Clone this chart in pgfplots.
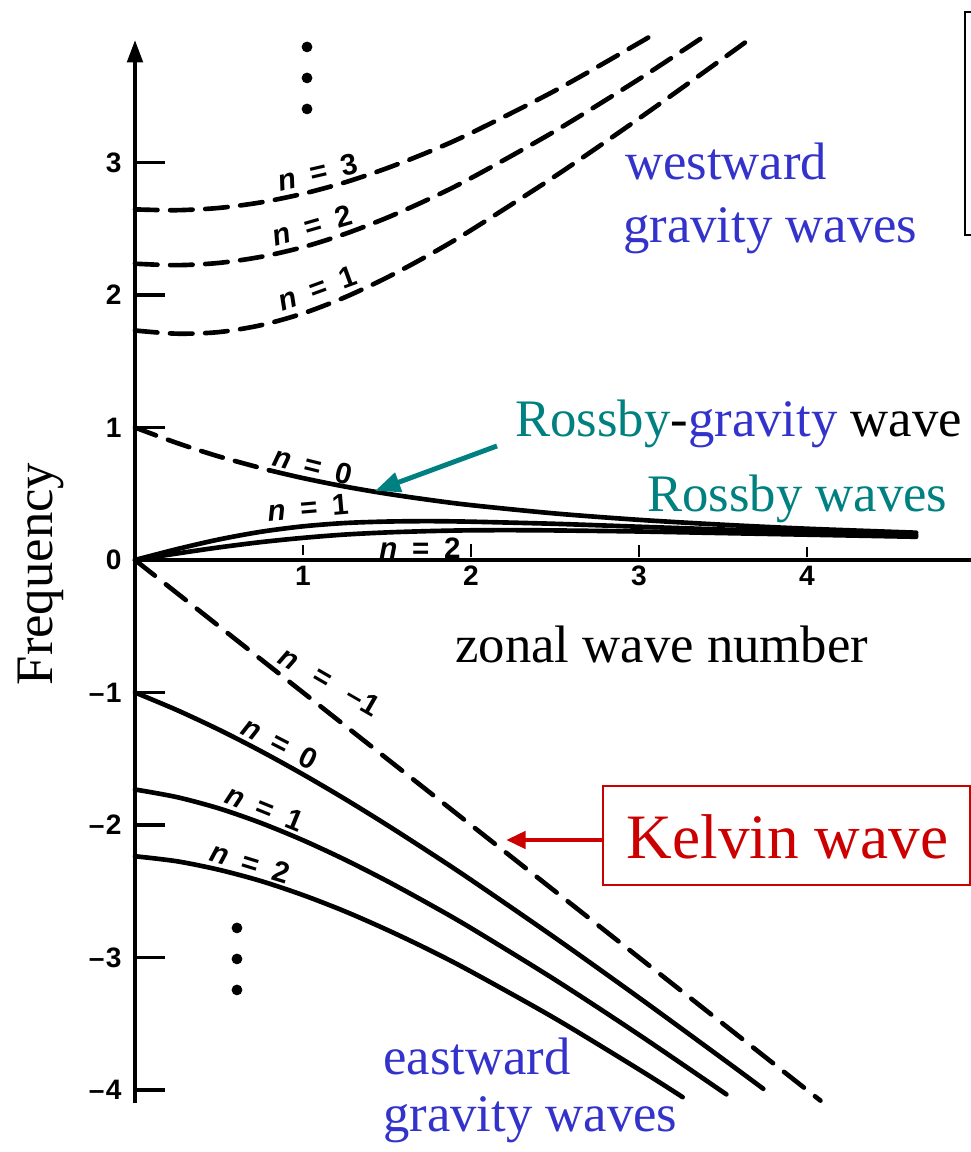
\documentclass[border=0pt]{standalone}
\usepackage{pgfplots}
\pgfplotsset{compat=1.18}
\usepackage{fontspec}
\setmainfont{Liberation Serif}
\setsansfont{Liberation Sans}
\usetikzlibrary{arrows.meta}
\definecolor{tealc}{RGB}{0,128,128}
\definecolor{bluec}{RGB}{51,51,204}
\definecolor{redc}{RGB}{204,0,0}
\newcommand{\lab}[1]{{\fontsize{21}{21}\selectfont\sffamily\bfseries\textit{n}\hspace{0.5em}=\hspace{0.5em}#1}}
\newcommand{\labw}[1]{{\fontsize{21}{21}\selectfont\sffamily\bfseries\textit{n}\hspace{0.7em}=\hspace{0.7em}#1}}
\newcommand{\tl}[1]{{\fontsize{20}{20}\selectfont\sffamily\bfseries #1}}
\newcommand{\bigtxt}{\fontsize{37.5}{37.5}\selectfont}
\begin{document}
\begin{tikzpicture}
\begin{axis}[
  x=4.2cm, y=3.3125cm,
  xmin=0, xmax=4.976, ymin=-4.1, ymax=3.9245,
  axis lines=middle,
  axis line style={line width=2.8pt, -},
  y axis line style={-{Triangle[length=16pt,width=11pt]}},
  clip=false,
  hide obscured y ticks=false,
  xtick={1,2,3,4},
  xticklabels={\tl{1},\tl{2},\tl{3},\tl{4}},
  ytick={-4,-3,-2,-1,0,1,2,3},
  yticklabels={\tl{–\kern1pt4},\tl{–\kern1pt3},\tl{–\kern1pt2},\tl{–\kern1pt1},\tl{0},\tl{1},\tl{2},\tl{3}},
  tick align=inside,
  major tick length=21pt,
  ytick style={line width=2.8pt, black},
  xtick style={draw=none},
  yticklabel style={xshift=-6pt},
  xticklabel style={yshift=-1pt},
]
% westward gravity waves
\addplot[line width=3.3pt, dash pattern=on 16pt off 9pt, line cap=round, smooth] coordinates {
(0,1.732) (0.25,1.708) (0.5,1.720) (0.75,1.772) (1,1.861) (1.25,1.983) (1.5,2.132) (1.75,2.302) (2,2.489) (2.5,2.896) (3,3.332) (3.5,3.785) (3.66,3.932)};
\addplot[line width=3.3pt, dash pattern=on 16pt off 9pt, line cap=round, smooth] coordinates {
(0,2.236) (0.25,2.225) (0.5,2.242) (0.75,2.288) (1,2.361) (1.25,2.461) (1.5,2.583) (1.75,2.724) (2,2.882) (2.5,3.237) (3,3.629) (3.39,3.954)};
\addplot[line width=3.3pt, dash pattern=on 16pt off 9pt, line cap=round, smooth] coordinates {
(0,2.646) (0.25,2.640) (0.5,2.657) (0.75,2.699) (1,2.764) (1.25,2.850) (1.5,2.957) (1.75,3.081) (2,3.222) (2.5,3.542) (3,3.902) (3.1,3.979)};
% mixed Rossby-gravity
\addplot[line width=3.3pt, dash pattern=on 16pt off 9pt, line cap=round, smooth] coordinates {
(0,1) (0.25,0.883) (0.5,0.781) (0.8,0.677)};
\addplot[line width=3.3pt, line cap=round, smooth] coordinates {
(0.8,0.677) (1,0.618) (1.25,0.554) (1.5,0.5) (1.75,0.454) (2,0.414) (2.5,0.351) (3,0.303) (3.5,0.266) (4,0.236) (4.65,0.206)};
% Rossby waves
\addplot[line width=3.3pt, line cap=round, smooth] coordinates {
(0,0) (0.25,0.082) (0.5,0.155) (0.75,0.213) (1,0.254) (1.25,0.279) (1.5,0.290) (1.75,0.293) (2,0.289) (2.5,0.273) (3,0.251) (3.5,0.230) (4,0.211) (4.65,0.189)};
\addplot[line width=3.3pt, line cap=round, smooth] coordinates {
(0,0) (0.25,0.049) (0.5,0.095) (0.75,0.135) (1,0.167) (1.25,0.192) (1.5,0.208) (1.75,0.218) (2,0.224) (2.25,0.225) (2.5,0.223) (3,0.215) (3.5,0.203) (4,0.191) (4.65,0.175)};
% Kelvin
\addplot[line width=3.3pt, dash pattern=on 18pt off 10pt, line cap=round] coordinates {(0,0) (4.08,-4.08)};
% eastward gravity waves
\addplot[line width=3.3pt, line cap=round, smooth] coordinates {
(0,-1) (0.25,-1.133) (0.5,-1.281) (0.75,-1.443) (1,-1.618) (1.25,-1.804) (1.5,-2.0) (1.75,-2.204) (2,-2.414) (2.5,-2.851) (3,-3.303) (3.5,-3.766) (3.74,-3.991)};
\addplot[line width=3.3pt, line cap=round, smooth] coordinates {
(0,-1.732) (0.25,-1.790) (0.5,-1.875) (0.75,-1.985) (1,-2.115) (1.25,-2.262) (1.5,-2.423) (1.75,-2.596) (2,-2.778) (2.5,-3.168) (3,-3.583) (3.52,-4.033)};
\addplot[line width=3.3pt, line cap=round, smooth] coordinates {
(0,-2.236) (0.25,-2.274) (0.5,-2.338) (0.75,-2.423) (1,-2.529) (1.25,-2.652) (1.5,-2.791) (1.75,-2.942) (2,-3.106) (2.5,-3.460) (3,-3.845) (3.26,-4.054)};
% dots
\addplot[only marks, mark=*, mark size=3.6pt, black] coordinates {(1.024,3.872) (1.024,3.638) (1.024,3.404)};
\addplot[only marks, mark=*, mark size=3.6pt, black] coordinates {(0.607,-2.777) (0.607,-3.011) (0.607,-3.245)};
% small x tick marks above the axis
\draw[line width=2pt] (axis cs:1,0.04) -- (axis cs:1,0.11);
\draw[line width=2pt] (axis cs:2,0.02) -- (axis cs:2,0.12);
\draw[line width=2pt] (axis cs:3,0.02) -- (axis cs:3,0.11);
\draw[line width=2pt] (axis cs:4,0.02) -- (axis cs:4,0.10);
% curve labels
\node[rotate=13] at (axis cs:1.0893,2.9283) {\lab{3}};
\node[rotate=16] at (axis cs:1.0536,2.5283) {\lab{2}};
\node[rotate=20] at (axis cs:1.0833,2.0528) {\lab{1}};
\node[rotate=-14] at (axis cs:1.0595,0.7119) {\lab{0}};
\node[rotate=5] at (axis cs:1.0298,0.3925) {\lab{1}};
\node[rotate=0] at (axis cs:1.6964,0.088) {\lab{2}};
\node[rotate=-30] at (axis cs:1.1607,-0.9157) {\labw{–\kern1pt1}};
\node[rotate=-27] at (axis cs:0.8631,-1.3811) {\lab{0}};
\node[rotate=-22] at (axis cs:0.7738,-1.8717) {\lab{1}};
\node[rotate=-17] at (axis cs:0.6845,-2.2868) {\lab{2}};
% texts
\node[anchor=base west, text=bluec, font=\bigtxt, inner sep=0pt] at (axis cs:2.9167,2.8679) {westward};
\node[anchor=base west, text=bluec, font=\bigtxt, inner sep=0pt] at (axis cs:2.9048,2.3925) {gravity waves};
\node[anchor=base west, font=\bigtxt, inner sep=0pt] at (axis cs:2.2619,0.9283) {{\color{tealc}Rossby}-{\color{bluec}gravity} wave};
\node[anchor=base west, text=tealc, font=\bigtxt, inner sep=0pt] at (axis cs:3.0476,0.3623) {Rossby waves};
\node[anchor=base west, font=\bigtxt, inner sep=0pt] at (axis cs:1.9048,-0.7774) {zonal wave number};
\node[anchor=base west, text=bluec, font=\bigtxt, inner sep=0pt] at (axis cs:1.4762,-3.8868) {eastward};
\node[anchor=base west, text=bluec, font=\bigtxt, inner sep=0pt] at (axis cs:1.4762,-4.317) {gravity waves};
\node[anchor=base, rotate=90, font=\bigtxt, inner sep=0pt] at (axis cs:-0.494,-0.106) {Frequency};
% arrows and boxes
\draw[tealc, line width=3.5pt, -{Triangle[length=18pt,width=14pt]}] (axis cs:2.1548,0.8604) -- (axis cs:1.4286,0.5208);
\draw[redc, line width=3.5pt, -{Triangle[length=14pt,width=12pt]}] (axis cs:2.7857,-2.1132) -- (axis cs:2.2083,-2.1132);
\draw[redc, line width=1.4pt] (axis cs:2.7857,-1.7057) rectangle (axis cs:4.9702,-2.4528);
\node[anchor=base, text=redc, font=\fontsize{45}{45}\selectfont, inner sep=0pt] at (axis cs:3.8839,-2.2566) {Kelvin wave};
\draw[line width=1.4pt] (axis cs:4.9762,4.1358) -- (axis cs:4.9405,4.1358) -- (axis cs:4.9405,2.4528) -- (axis cs:4.9762,2.4528);
\coordinate (BL) at (axis cs:-0.80357,-4.468);
\coordinate (TR) at (axis cs:4.97619,4.2264);
\end{axis}
\pgfresetboundingbox
\useasboundingbox (BL) rectangle (TR);
\end{tikzpicture}
\end{document}
